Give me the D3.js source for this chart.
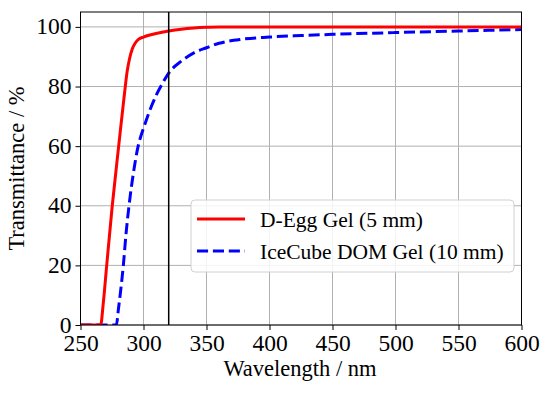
<!DOCTYPE html>
<html><head><meta charset="utf-8">
<script src="https://cdn.jsdelivr.net/npm/d3@7"></script>
<style>body{margin:0;background:#fff;} svg{display:block;}</style>
</head><body>
<script>
const redWl  = [250,266,268,270.8,275.2,280.3,285,287,289,291,293.5,296,300,305,310,320,330,340,350,360,400,500,600];
const redT   = [0,0,7,20,40,60,78,85,89.5,92.5,94.6,95.8,96.6,97.3,97.8,98.6,99.2,99.6,99.85,100,100,100,100];
const blueWl = [250,278.5,280,282,284,286,288.5,292,295.5,298,300,305,310,315,320,330,340,350,360,375,400,425,450,500,550,600];
const blueT  = [0,0,5,12,20,30,40,51,59.5,63.5,66,72,77,81,84.5,88.5,91.3,93,94.5,95.7,96.6,97.1,97.5,98.1,98.6,99.1];
const xTicks = [250,300,350,400,450,500,550,600];
const yTicks = [0,20,40,60,80,100];
const seriesNames = ["D-Egg Gel (5 mm)","IceCube DOM Gel (10 mm)"];
const markerWl = 320;

const W=551,H=393;
const m={l:80.5,r:29.5,t:12,b:68};
const svg=d3.select("body").append("svg").attr("width",W).attr("height",H);
const x=d3.scaleLinear().domain([250,600]).range([m.l,W-m.r]);
const y=d3.scaleLinear().domain([0,105]).range([H-m.b,m.t]);
const tfont="'Liberation Serif', serif";

const g=svg.append("g");
g.selectAll(".gx").data(xTicks).join("line").attr("x1",d=>x(d)).attr("x2",d=>x(d)).attr("y1",y(0)).attr("y2",y(105)).attr("stroke","#b0b0b0").attr("stroke-width",1);
g.selectAll(".gy").data(yTicks).join("line").attr("y1",d=>y(d)).attr("y2",d=>y(d)).attr("x1",x(250)).attr("x2",x(600)).attr("stroke","#b0b0b0").attr("stroke-width",1);

svg.append("clipPath").attr("id","c").append("rect").attr("x",x(250)).attr("y",y(105)).attr("width",x(600)-x(250)).attr("height",y(0)-y(105));

const line=d3.line().x(d=>x(d[0])).y(d=>y(d[1])).curve(d3.curveMonotoneX);
const pl=svg.append("g").attr("clip-path","url(#c)");
pl.append("path").datum(blueWl.map((w,i)=>[w,blueT[i]])).attr("d",line).attr("fill","none").attr("stroke","#0000ff").attr("stroke-width",3).attr("stroke-dasharray","11.1,4.8");
pl.append("path").datum(redWl.map((w,i)=>[w,redT[i]])).attr("d",line).attr("fill","none").attr("stroke","#ff0000").attr("stroke-width",3);
pl.append("line").attr("x1",x(markerWl)).attr("x2",x(markerWl)).attr("y1",y(0)).attr("y2",y(105)).attr("stroke","#000").attr("stroke-width",1.5);

const xa=svg.append("g").attr("transform",`translate(0,${y(0)})`).call(d3.axisBottom(x).tickValues(xTicks).tickSize(5).tickPadding(3).tickFormat(d3.format("d")));
const ya=svg.append("g").attr("transform",`translate(${x(250)},0)`).call(d3.axisLeft(y).tickValues(yTicks).tickSize(5).tickPadding(4).tickFormat(d3.format("d")));
[xa,ya].forEach(a=>{a.select(".domain").remove();a.selectAll("text").attr("font-family",tfont).attr("font-size",23.5).attr("fill","#000");a.selectAll("line").attr("stroke","#000");});
xa.selectAll("text").attr("dy","0.78em");
ya.selectAll("text").attr("dy","0.3em");
svg.append("rect").attr("x",x(250)).attr("y",y(105)).attr("width",x(600)-x(250)).attr("height",y(0)-y(105)).attr("fill","none").attr("stroke","#000").attr("stroke-width",1);

svg.append("text").attr("x",300).attr("y",376).attr("text-anchor","middle").attr("font-family",tfont).attr("font-size",22.5).text("Wavelength / nm");
svg.append("text").attr("transform",`translate(24,${(y(0)+y(105))/2}) rotate(-90)`).attr("text-anchor","middle").attr("font-family",tfont).attr("font-size",22.5).text("Transmittance / %");

const lg=svg.append("g");
lg.append("rect").attr("x",191).attr("y",200).attr("width",323).attr("height",72).attr("rx",4).attr("fill","#fff").attr("fill-opacity",0.85).attr("stroke","#d0d0d0");
const rows=[{c:"#ff0000",d:null,y:219},{c:"#0000ff",d:"11.1,4.8",y:251}];
rows.forEach((r,i)=>{
  lg.append("line").attr("x1",197).attr("x2",245).attr("y1",r.y).attr("y2",r.y).attr("stroke",r.c).attr("stroke-width",3).attr("stroke-dasharray",r.d);
  lg.append("text").attr("x",260).attr("y",r.y).attr("dy","0.35em").attr("font-family",tfont).attr("font-size",21.5).text(seriesNames[i]);
});
</script>
</body></html>
